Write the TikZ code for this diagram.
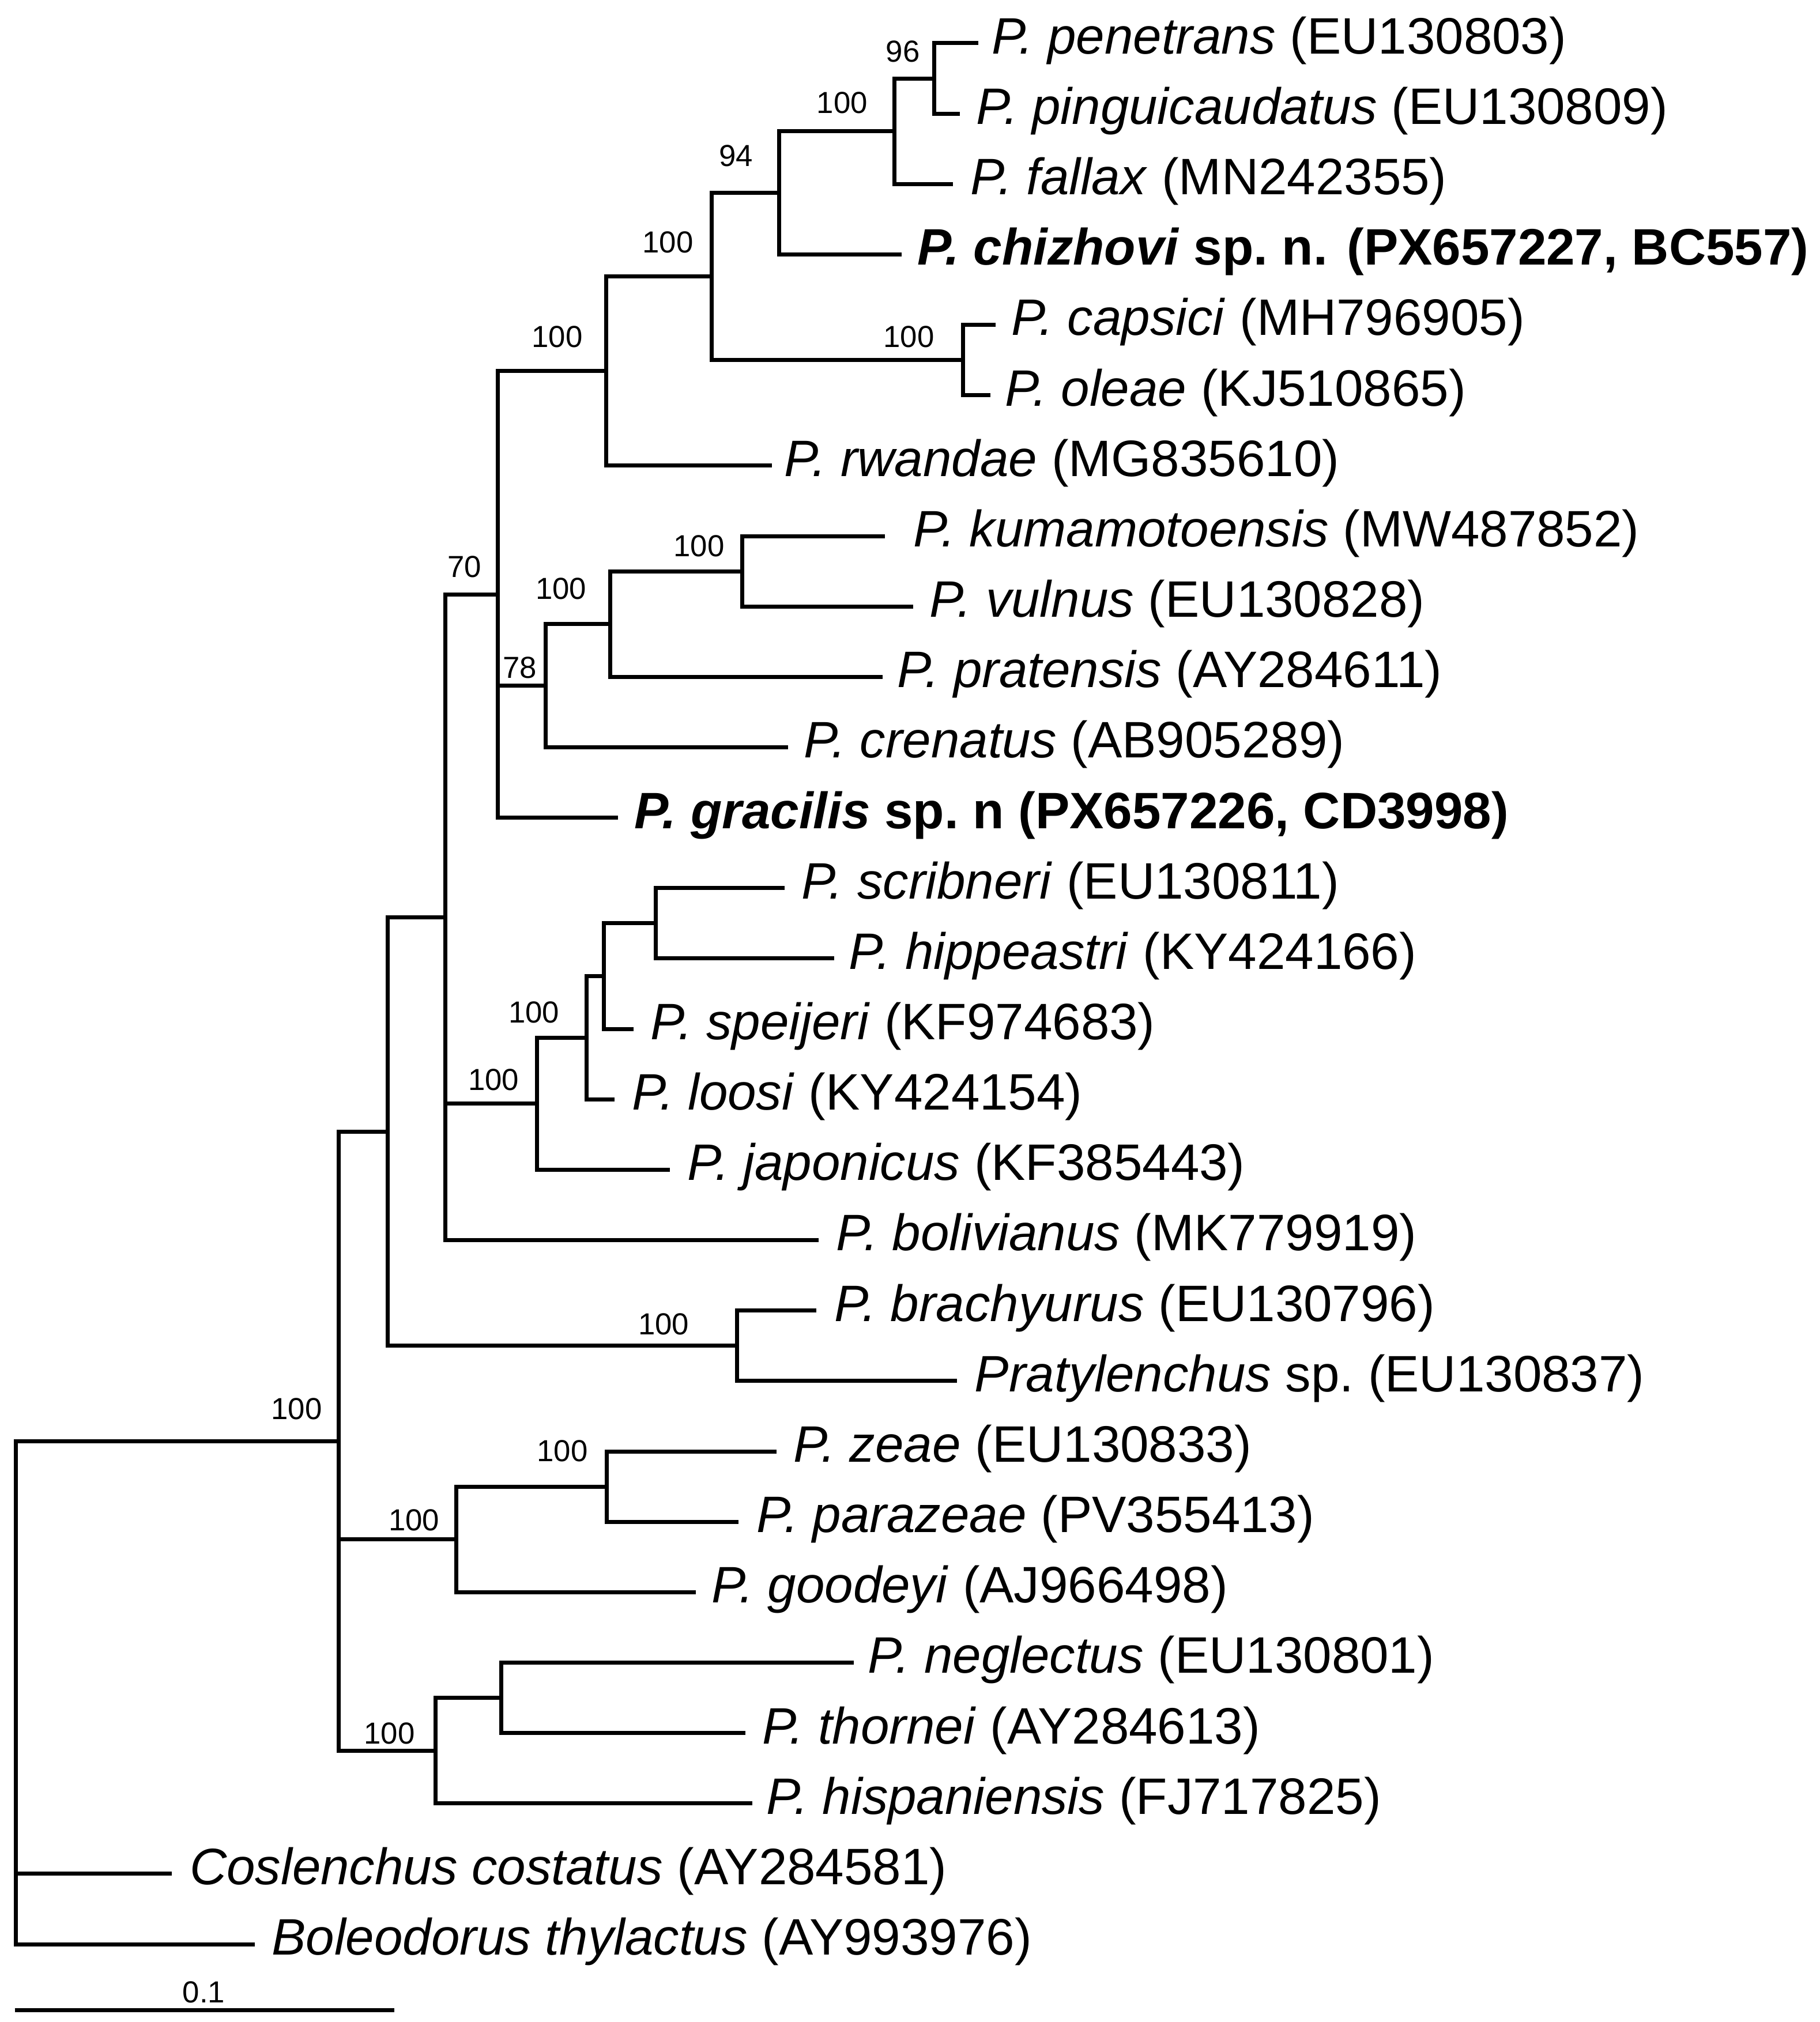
\documentclass[tikz,border=0pt]{standalone}
\usepackage{fontspec}
\setmainfont{Liberation Sans}
\frenchspacing
\begin{document}
\begin{tikzpicture}[x=0.022367cm,y=-0.022367cm,
  br/.style={draw=black,line width=2pt,line join=miter},
  taxon/.style={anchor=base west,inner sep=0pt,font=\fontsize{25.3pt}{30pt}\selectfont},
  boot/.style={anchor=center,inner sep=0pt,font=\fontsize{15pt}{18pt}\selectfont}]
\useasboundingbox (0,0) rectangle (1411,1568);
% tips
\coordinate (t0) at (758.6,33.5);
\coordinate (t1) at (744.4,88.1);
\coordinate (t2) at (739,142.7);
\coordinate (t3) at (699,197.3);
\coordinate (t4) at (772,251.9);
\coordinate (t5) at (768,306.5);
\coordinate (t6) at (598.6,361.1);
\coordinate (t7) at (686,415.7);
\coordinate (t8) at (708,470.3);
\coordinate (t9) at (684.5,524.9);
\coordinate (t10) at (611,579.5);
\coordinate (t11) at (479,634.1);
\coordinate (t12) at (608.5,688.7);
\coordinate (t13) at (646.6,743.3);
\coordinate (t14) at (491,797.9);
\coordinate (t15) at (476.6,852.5);
\coordinate (t16) at (519.5,907.1);
\coordinate (t17) at (634.5,961.7);
\coordinate (t18) at (633,1016.3);
\coordinate (t19) at (741.8,1070.9);
\coordinate (t20) at (602,1125.5);
\coordinate (t21) at (572.6,1180.1);
\coordinate (t22) at (539.4,1234.7);
\coordinate (t23) at (662,1289.3);
\coordinate (t24) at (578,1343.9);
\coordinate (t25) at (583.4,1398.5);
\coordinate (t26) at (133,1453.1);
\coordinate (t27) at (197.6,1507.7);
% internal nodes
\coordinate (n96) at (724.4,60.8);
\coordinate (n100a) at (693.5,101.75);
\coordinate (n94) at (604,149.5);
\coordinate (n100c) at (746.6,279.2);
\coordinate (n100b) at (552,214.35);
\coordinate (n100d) at (470,287.7);
\coordinate (n100e) at (575.5,443.0);
\coordinate (n100f) at (473,483.95);
\coordinate (n78) at (423,531.7);
\coordinate (n70) at (386,460.9);
\coordinate (nsh) at (508.5,716);
\coordinate (nsp) at (468,756.95);
\coordinate (n100g) at (455,804.7);
\coordinate (n100h) at (416.5,855.9);
\coordinate (nA) at (345.5,711.3);
\coordinate (n100i) at (571.4,1043.6);
\coordinate (nB) at (300.5,877.45);
\coordinate (n100j) at (470.5,1152.8);
\coordinate (n100k) at (353.7,1193.75);
\coordinate (nnt) at (388.7,1316.6);
\coordinate (n100l) at (337.5,1357.55);
\coordinate (nC) at (262.8,1117.5);
\coordinate (root) at (12.5,1312.6);
% branches
\draw[br] (t0) -| (n96) |- (t1);
\draw[br] (n96) -| (n100a) |- (t2);
\draw[br] (n100a) -| (n94) |- (t3);
\draw[br] (t4) -| (n100c) |- (t5);
\draw[br] (n94) -| (n100b) |- (n100c);
\draw[br] (n100b) -| (n100d) |- (t6);
\draw[br] (t7) -| (n100e) |- (t8);
\draw[br] (n100e) -| (n100f) |- (t9);
\draw[br] (n100f) -| (n78) |- (t10);
\draw[br] (n100d) -| (n70) |- (t11);
\draw[br] (n70 |- n78) -- (n78);
\draw[br] (t12) -| (nsh) |- (t13);
\draw[br] (nsh) -| (nsp) |- (t14);
\draw[br] (nsp) -| (n100g) |- (t15);
\draw[br] (n100g) -| (n100h) |- (t16);
\draw[br] (n70) -| (nA) |- (t17);
\draw[br] (nA |- n100h) -- (n100h);
\draw[br] (t18) -| (n100i) |- (t19);
\draw[br] (nA) -| (nB) |- (n100i);
\draw[br] (t20) -| (n100j) |- (t21);
\draw[br] (n100j) -| (n100k) |- (t22);
\draw[br] (t23) -| (nnt) |- (t24);
\draw[br] (nnt) -| (n100l) |- (t25);
\draw[br] (nB) -| (nC) |- (n100l);
\draw[br] (nC |- n100k) -- (n100k);
\draw[br] (nC) -| (root) |- (t27);
\draw[br] (root |- t26) -- (t26);
% scale bar
\coordinate (sb0) at (11.4,1559);
\coordinate (sb1) at (305.7,1559);
\draw[br] (sb0) -- (sb1);
\node[boot] (sbl) at (158,1545) {0.1};
% taxon labels
\node[taxon] (l0) at (768.5,41.7) {\textit{P. penetrans} (EU130803)};
\node[taxon] (l1) at (756.5,96.3) {\textit{P. pinguicaudatus} (EU130809)};
\node[taxon] (l2) at (752,150.9) {\textit{P. fallax} (MN242355)};
\node[taxon] (l3) at (711,205.5) {\textbf{\textit{P. chizhovi} sp. n.\ \hspace{0.1em}(PX657227, BC557)}};
\node[taxon] (l4) at (784,260.1) {\textit{P. capsici} (MH796905)};
\node[taxon] (l5) at (779,314.7) {\textit{P. oleae} (KJ510865)};
\node[taxon] (l6) at (608,369.3) {\textit{P. rwandae} (MG835610)};
\node[taxon] (l7) at (708,423.9) {\textit{P. kumamotoensis} (MW487852)};
\node[taxon] (l8) at (720.6,478.5) {\textit{P. vulnus} (EU130828)};
\node[taxon] (l9) at (695.6,533.1) {\textit{P. pratensis} (AY284611)};
\node[taxon] (l10) at (623,587.7) {\textit{P. crenatus} (AB905289)};
\node[taxon] (l11) at (491.8,642.3) {\textbf{\textit{P. gracilis} sp. n (PX657226, CD3998)}};
\node[taxon] (l12) at (621,696.9) {\textit{P. scribneri} (EU130811)};
\node[taxon] (l13) at (658,751.5) {\textit{P. hippeastri} (KY424166)};
\node[taxon] (l14) at (504,806.1) {\textit{P. speijeri} (KF974683)};
\node[taxon] (l15) at (489.6,860.7) {\textit{P. loosi} (KY424154)};
\node[taxon] (l16) at (532.6,915.3) {\textit{P. japonicus} (KF385443)};
\node[taxon] (l17) at (648,969.9) {\textit{P. bolivianus} (MK779919)};
\node[taxon] (l18) at (646.7,1024.5) {\textit{P. brachyurus} (EU130796)};
\node[taxon] (l19) at (755.5,1079.1) {\textit{Pratylenchus} sp. (EU130837)};
\node[taxon] (l20) at (615,1133.7) {\textit{P. zeae} (EU130833)};
\node[taxon] (l21) at (586.4,1188.3) {\textit{P. parazeae} (PV355413)};
\node[taxon] (l22) at (551.5,1242.9) {\textit{P. goodeyi} (AJ966498)};
\node[taxon] (l23) at (672.8,1297.5) {\textit{P. neglectus} (EU130801)};
\node[taxon] (l24) at (590.6,1352.1) {\textit{P. thornei} (AY284613)};
\node[taxon] (l25) at (594,1406.7) {\textit{P. hispaniensis} (FJ717825)};
\node[taxon] (l26) at (146.8,1461.3) {\textit{Coslenchus costatus} (AY284581)};
\node[taxon] (l27) at (210.4,1515.9) {\textit{Boleodorus thylactus} (AY993976)};
% bootstrap values
\node[boot] (b96) at (700,40) {96};
\node[boot] (b100a) at (653,79.7) {100};
\node[boot] (b94) at (570.7,120.7) {94};
\node[boot] (b100b) at (517.8,187.8) {100};
\node[boot] (b100c) at (704.6,261) {100};
\node[boot] (b100d) at (432,261) {100};
\node[boot] (b100e) at (542,423.4) {100};
\node[boot] (b100f) at (435,456.6) {100};
\node[boot] (b70) at (360,439.4) {70};
\node[boot] (b78) at (403,517.6) {78};
\node[boot] (b100g) at (414,785) {100};
\node[boot] (b100h) at (382.7,837.5) {100};
\node[boot] (b100i) at (514.5,1026.7) {100};
\node[boot] (b100j) at (436,1125) {100};
\node[boot] (b100k) at (321,1178.7) {100};
\node[boot] (b100l) at (302,1344) {100};
\node[boot] (bC) at (230,1092.4) {100};
\end{tikzpicture}
\end{document}
